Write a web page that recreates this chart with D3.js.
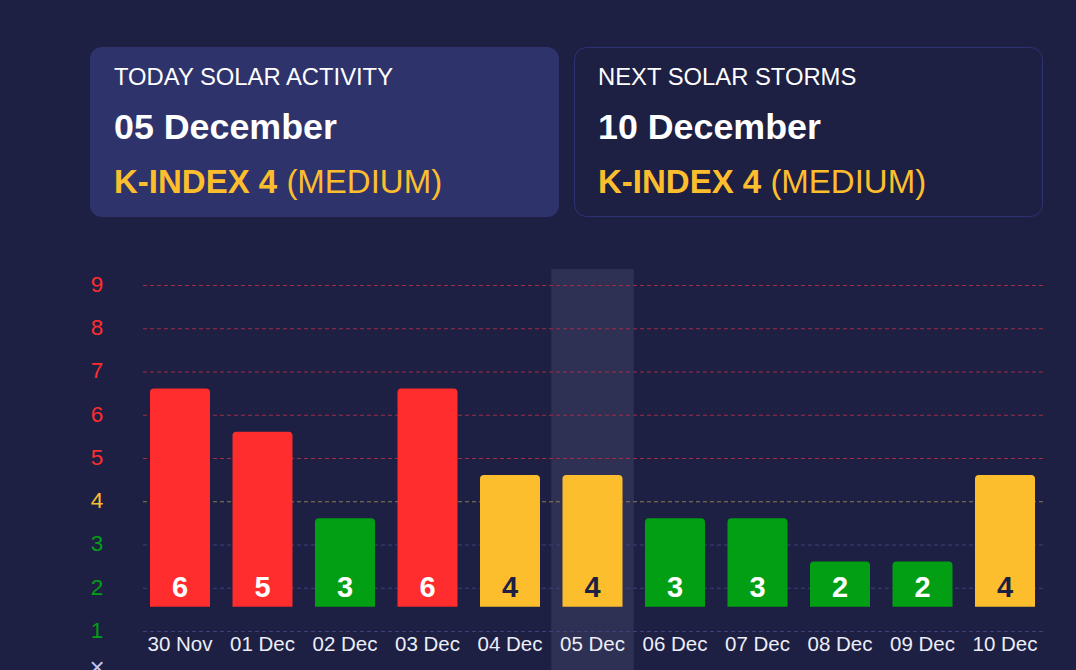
<!DOCTYPE html>
<html>
<head>
<meta charset="utf-8">
<script src="https://cdn.jsdelivr.net/npm/d3@7"></script>
<style>
  html, body { margin: 0; padding: 0; background: #1d1f43; overflow: hidden; }
  svg { display: block; font-family: "Liberation Sans", Arial, sans-serif; }
</style>
</head>
<body>
<svg id="chart" width="1076" height="670"></svg>
<script>
// ---- data ----
const dates = ["30 Nov", "01 Dec", "02 Dec", "03 Dec", "04 Dec", "05 Dec", "06 Dec", "07 Dec", "08 Dec", "09 Dec", "10 Dec"];
const kValues = [6, 5, 3, 6, 4, 4, 3, 3, 2, 2, 4];
const yTicks = [1, 2, 3, 4, 5, 6, 7, 8, 9];
const todayDate = "05 Dec";
const cardTitles = ["TODAY SOLAR ACTIVITY", "NEXT SOLAR STORMS"];
const cardDates = ["05 December", "10 December"];
const cardK = [4, 4];
const cardLevels = ["(MEDIUM)", "(MEDIUM)"];

// ---- style ----
const RED = "#ff2d2d", YELLOW = "#fdbe2e", GREEN = "#029f14";
const BG = "#1d1f43";
const colorFor = v => v >= 5 ? RED : (v === 4 ? YELLOW : GREEN);
const gridColor = v => v >= 5 ? "#a02c46" : (v === 4 ? "#8c7d52" : "#3b4377");

const svg = d3.select("#chart");
svg.append("rect").attr("width", 1076).attr("height", 670).attr("fill", BG);

// ---- cards ----
const cardX = [90, 574];
cardX.forEach((cx, i) => {
  const g = svg.append("g").attr("transform", `translate(${cx},47)`);
  if (i === 0) {
    g.append("rect").attr("x", 0).attr("y", 0).attr("width", 469).attr("height", 170)
      .attr("rx", 12).attr("fill", "#2f336b");
  } else {
    g.append("rect").attr("x", 0.5).attr("y", 0.5).attr("width", 468).attr("height", 169)
      .attr("rx", 12).attr("fill", "none").attr("stroke", "#2d3372").attr("stroke-width", 1);
  }
  g.append("text").attr("x", 24).attr("y", 38).attr("fill", "#ffffff")
    .attr("font-size", 23.8).text(cardTitles[i]);
  g.append("text").attr("x", 24).attr("y", 92).attr("fill", "#ffffff")
    .attr("font-size", 35.8).attr("font-weight", "bold").text(cardDates[i]);
  const t = g.append("text").attr("x", 24).attr("y", 146).attr("fill", YELLOW).attr("font-size", 33);
  t.append("tspan").attr("font-weight", "bold").text(`K-INDEX ${cardK[i]} `);
  t.append("tspan").text(cardLevels[i]);
});

// ---- scales ----
const x = d3.scaleBand().domain(dates).range([138.75, 1046.25])
  .paddingInner(0.2727).paddingOuter(0.13635);
const y = d3.scaleLinear().domain([1, 9]).range([631, 285]);
const step = x.step();

// highlight today column
svg.append("rect")
  .attr("x", x(todayDate) - (step - x.bandwidth()) / 2)
  .attr("y", 269)
  .attr("width", step)
  .attr("height", 670 - 269)
  .attr("fill", "#2e3154");

// gridlines
svg.append("g").selectAll("line").data(yTicks).join("line")
  .attr("x1", 143).attr("x2", 1043)
  .attr("y1", d => y(d) + 0.5).attr("y2", d => y(d) + 0.5)
  .attr("stroke", d => gridColor(d))
  .attr("stroke-width", 1)
  .attr("stroke-dasharray", "4,3");

// y tick labels
svg.append("g").selectAll("text").data(yTicks).join("text")
  .attr("x", 97).attr("y", d => y(d) - 1).attr("dy", "0.35em")
  .attr("text-anchor", "middle").attr("font-size", 22.5)
  .attr("fill", d => colorFor(d)).text(d => d);

// bars (shifted baseline as in original)
const SHIFT_TOP = 26.3, SHIFT_BOTTOM = 24.3, R = 4;
const bars = svg.append("g");
dates.forEach((d, i) => {
  const v = kValues[i];
  const x0 = x(d), w = x.bandwidth();
  const top = y(v) - SHIFT_TOP, bottom = y(1) - SHIFT_BOTTOM;
  const p = d3.path();
  p.moveTo(x0, bottom);
  p.lineTo(x0, top + R);
  p.arcTo(x0, top, x0 + R, top, R);
  p.lineTo(x0 + w - R, top);
  p.arcTo(x0 + w, top, x0 + w, top + R, R);
  p.lineTo(x0 + w, bottom);
  p.closePath();
  bars.append("path").attr("d", p.toString()).attr("fill", colorFor(v));
  bars.append("text")
    .attr("x", x0 + w / 2).attr("y", y(1) - 34)
    .attr("text-anchor", "middle").attr("font-size", 29).attr("font-weight", "bold")
    .attr("fill", v === 4 ? "#1d1f43" : "#ffffff").text(v);
});

// x labels
svg.append("g").selectAll("text").data(dates).join("text")
  .attr("x", d => x(d) + x.bandwidth() / 2).attr("y", 651)
  .attr("text-anchor", "middle").attr("font-size", 20.5)
  .attr("fill", "#eceef8").text(d => d);

// partial axis icon at bottom-left (cut by the frame as in the original)
svg.append("text").attr("x", 97).attr("y", 676).attr("text-anchor", "middle")
  .attr("font-size", 26).attr("fill", "#c3c6f2").text("×");
</script>
</body>
</html>
